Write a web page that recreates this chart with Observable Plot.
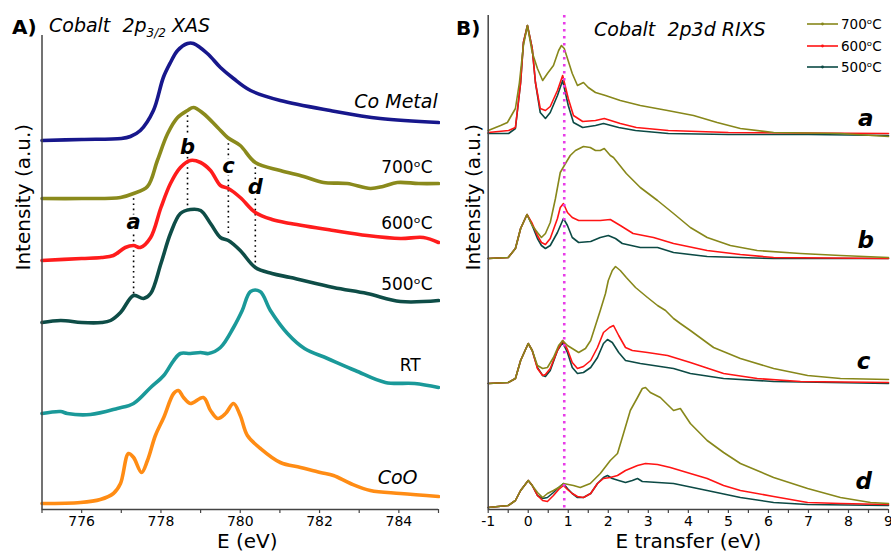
<!DOCTYPE html>
<html><head><meta charset="utf-8">
<script src="https://cdn.jsdelivr.net/npm/d3@7"></script>
<script src="https://cdn.jsdelivr.net/npm/@observablehq/plot@0.6"></script>
<style>
body{margin:0;background:#fff;font-family:"DejaVu Sans",sans-serif;}
#wrap{position:relative;width:891px;height:557px;overflow:hidden;background:#fff;}
#pa{position:absolute;left:0;top:0;}
#pb{position:absolute;left:440px;top:0;}
.ov{position:absolute;white-space:pre;color:#000;line-height:1;}
.sub{font-size:12px;position:relative;top:5px;}
.leg{position:absolute;display:flex;align-items:center;height:16px;font-size:13.5px;}
</style></head><body>
<div id="wrap">
<div id="pa"></div><div id="pb"></div>
<div class="ov" style="left:12px;top:17px;font-weight:bold;font-size:20px">A)</div>
<div class="ov" style="left:49px;top:16px;font-style:italic;font-size:19px">Cobalt  2p<span class="sub">3/2</span> XAS</div>
<div class="ov" style="left:456px;top:18px;font-weight:bold;font-size:20px">B)</div>
<div class="ov" style="left:594px;top:20px;font-style:italic;font-size:19px">Cobalt  2p3d RIXS</div>
<div id="legend"></div>
</div>
<script>
// ---------- Panel A: Co 2p3/2 XAS (E in eV, intensity in a.u. incl. vertical offsets)
const xasCoMetal = [[775,369],[776,370],[777,371],[777.23,373],[777.48,379],[777.81,399],[778.06,432],[778.24,447],[778.42,459],[778.67,466],[778.82,466],[779.17,456],[779.5,442],[779.83,431],[780.26,419],[781.01,409],[782.27,399],[783.53,391],[785,387]];
const xas700 = [[775,311],[776,311],[776.98,312],[777.31,316],[777.66,323],[777.91,349],[778.17,376],[778.42,392],[778.67,399],[778.82,402],[779.07,396],[779.43,382],[779.68,372],[780,364],[780.38,347],[781.01,339],[781.6,333],[782.1,327],[782.7,326],[783.28,321],[783.6,323],[783.96,327],[784.5,326],[785,326]];
const xas600 = [[775,249],[776,251],[776.5,252],[776.8,254],[777.1,262],[777.31,264],[777.48,262],[777.74,272],[778,302],[778.24,326],[778.49,342],[778.74,349],[779,347],[779.25,339],[779.5,324],[779.7,321],[780,312],[780.38,297],[780.8,290],[781.27,286],[782.35,279],[783.2,274],[784.04,271],[784.62,272],[785,267]];
const xas500 = [[775,187],[775.47,189],[776,187],[776.5,187],[776.73,189],[776.98,197],[777.31,214],[777.56,211],[777.74,216],[778,246],[778.24,276],[778.49,296],[778.74,300],[779,299],[779.25,286],[779.5,272],[779.7,269],[780,259],[780.38,242],[780.8,236],[781.27,232],[782.35,222],[783.2,216],[784.04,208],[785,209]];
const xasRT = [[775,96],[775.47,98],[775.64,96],[776.22,95],[776.9,101],[777.31,106],[777.74,122],[778.07,134],[778.32,149],[778.49,156],[778.74,156],[779,157],[779.2,156],[779.5,162],[779.83,182],[780.05,199],[780.26,218],[780.5,218],[780.76,199],[781.19,176],[781.62,161],[782.2,151],[782.9,139],[783.66,127],[784.4,126],[785,122]];
const xasCoO = [[775,6],[775.97,7],[776.47,10],[776.8,16],[776.98,26],[777.18,56],[777.31,52],[777.51,37],[777.66,49],[777.86,74],[778.07,92],[778.32,116],[778.44,119],[778.57,112],[778.74,106],[779.07,112],[779.25,99],[779.43,91],[779.63,96],[779.83,106],[780,94],[780.18,74],[780.51,61],[781.01,47],[781.52,42],[782.02,37],[782.35,34],[782.78,26],[783.28,19],[784.04,16],[785,13]];
const xasNames = ["Co Metal","700ᵒC","600ᵒC","500ᵒC","RT","CoO"];
const xasLabelE = [784.98, 784.85, 784.85, 784.85, 784.55, 784.47];
const xasLabelI = [402, 337, 281, 220, 139, 26];
const xasLabelItalic = [true, false, false, false, false, true];
// features a-d
const featureNames = ["a","b","c","d"];
const featureE = [777.31, 778.67, 779.7, 780.38];
const featureTop = [316, 399, 371, 347];
const featureBottom = [214, 300, 276, 242];
const featureLabelI = [281, 356, 337, 316];

// ---------- Panel B: Co 2p3d RIXS (E transfer in eV)
const rixsA700 = [[-1,379],[-0.69,384],[-0.52,387],[-0.32,401],[-0.22,427],[-0.12,464],[-0.02,484],[0.1,457],[0.23,441],[0.36,429],[0.48,436],[0.63,444],[0.76,459],[0.83,464],[0.9,461],[0.98,451],[1.1,436],[1.23,424],[1.38,427],[1.5,422],[1.68,417],[1.93,414],[2.3,409],[2.8,404],[3.48,399],[4.13,394],[4.72,387],[5.3,381],[6.13,377],[7.8,376],[9,373]];
const rixsA600 = [[-1,377],[-0.49,379],[-0.32,382],[-0.19,427],[-0.12,467],[-0.02,484],[0.1,461],[0.18,427],[0.3,401],[0.43,399],[0.55,403],[0.73,419],[0.86,434],[1.0,411],[1.13,394],[1.36,388],[1.68,389],[1.9,391],[2.3,386],[2.7,382],[3.5,379],[5,377],[9,376]];
const rixsA500 = [[-1,376],[-0.49,376],[-0.32,381],[-0.19,427],[-0.12,467],[-0.02,484],[0.1,461],[0.18,427],[0.3,397],[0.43,391],[0.55,397],[0.73,414],[0.86,429],[1.0,404],[1.13,387],[1.36,382],[1.68,384],[1.88,386],[2.26,382],[2.68,379],[3.5,376],[5,375],[7,375],[9,374]];
const rixsB700 = [[-1,251],[-0.5,252],[-0.32,261],[-0.19,281],[-0.03,295],[0.1,284],[0.23,277],[0.33,272],[0.43,276],[0.55,287],[0.68,311],[0.8,337],[0.93,346],[1.05,354],[1.18,359],[1.38,363],[1.55,362],[1.68,359],[1.8,359],[1.9,361],[2.05,354],[2.13,352],[2.45,336],[2.8,322],[3.23,309],[3.63,296],[4.05,282],[4.47,272],[5.05,264],[5.72,259],[6.8,256],[7.8,254],[9,252]];
const rixsB600 = [[-1,251],[-0.5,252],[-0.32,261],[-0.19,281],[-0.03,295],[0.1,286],[0.23,274],[0.33,267],[0.43,265],[0.55,271],[0.73,291],[0.8,302],[0.88,306],[0.98,297],[1.1,292],[1.26,289],[1.56,289],[1.8,289],[2.05,290],[2.3,284],[2.62,276],[3.13,272],[3.63,266],[4.47,259],[5.3,255],[6.13,252],[9,251]];
const rixsB500 = [[-1,251],[-0.5,252],[-0.32,261],[-0.19,281],[-0.03,295],[0.1,284],[0.23,271],[0.33,264],[0.43,261],[0.55,264],[0.73,277],[0.88,291],[0.98,284],[1.1,272],[1.26,267],[1.56,268],[1.8,272],[2.0,274],[2.18,271],[2.35,266],[2.8,262],[3.23,262],[3.63,257],[4.47,253],[6.13,251],[9,251]];
const rixsC700 = [[-1,126],[-0.5,127],[-0.32,131],[-0.19,149],[0,166],[0.1,159],[0.23,144],[0.36,141],[0.48,142],[0.63,152],[0.76,164],[0.86,169],[0.98,164],[1.1,161],[1.26,157],[1.43,161],[1.56,169],[1.68,184],[1.8,199],[1.93,216],[2.0,229],[2.1,239],[2.18,243],[2.3,239],[2.45,232],[2.68,222],[2.98,212],[3.23,204],[3.43,199],[3.63,191],[3.8,186],[4.05,179],[4.63,162],[5.3,151],[6.13,141],[6.98,134],[7.8,131],[9,130]];
const rixsC600 = [[-1,126],[-0.5,127],[-0.32,131],[-0.19,149],[0,166],[0.1,159],[0.23,141],[0.36,134],[0.43,135],[0.55,141],[0.73,159],[0.86,169],[0.98,160],[1.1,147],[1.23,141],[1.38,143],[1.56,149],[1.73,162],[1.88,177],[2.03,182],[2.13,184],[2.26,174],[2.43,162],[2.6,159],[2.98,157],[3.48,154],[4.05,147],[4.88,136],[5.72,131],[6.8,128],[9,127]];
const rixsC500 = [[-1,126],[-0.5,127],[-0.32,131],[-0.19,149],[0,166],[0.1,159],[0.23,142],[0.36,134],[0.43,133],[0.55,139],[0.73,159],[0.86,167],[0.98,157],[1.1,142],[1.23,136],[1.38,137],[1.56,142],[1.73,152],[1.88,166],[1.98,170],[2.1,167],[2.26,157],[2.43,149],[2.8,146],[3.63,141],[4.05,136],[4.88,131],[6.13,128],[9,126]];
const rixsD700 = [[-1,2],[-0.5,4],[-0.32,9],[-0.19,19],[0,29],[0.1,24],[0.23,17],[0.36,12],[0.48,16],[0.63,19],[0.76,22],[0.88,26],[1.13,24],[1.3,22],[1.55,26],[1.8,36],[2.05,49],[2.23,56],[2.38,76],[2.55,99],[2.73,112],[2.85,121],[2.93,122],[3.05,117],[3.3,112],[3.63,99],[3.8,101],[4.05,86],[4.47,69],[4.88,57],[5.3,46],[6.13,32],[6.98,21],[7.8,12],[8.55,7],[9,6]];
const rixsD600 = [[-1,2],[-0.5,4],[-0.32,9],[-0.19,19],[0,29],[0.1,24],[0.23,14],[0.36,9],[0.48,8],[0.63,14],[0.76,20],[0.88,24],[0.98,20],[1.1,16],[1.23,13],[1.38,12],[1.56,16],[1.73,26],[1.88,31],[2.05,32],[2.23,34],[2.43,39],[2.73,44],[2.93,46],[3.23,45],[3.55,42],[4.05,36],[4.47,31],[4.88,24],[5.3,19],[6.13,13],[6.98,7],[7.8,6],[9,5]];
const rixsD500 = [[-1,2],[-0.5,4],[-0.32,9],[-0.19,19],[0,29],[0.1,24],[0.23,14],[0.36,11],[0.48,12],[0.63,17],[0.76,22],[0.88,26],[0.98,21],[1.1,16],[1.23,12],[1.38,12],[1.56,16],[1.73,26],[1.88,32],[1.98,34],[2.1,31],[2.26,29],[2.43,27],[2.6,29],[2.73,31],[2.85,28],[3.63,26],[4.47,19],[5.3,12],[6.13,7],[6.98,5],[9,4]];
const rixsTemps = ["700ᵒC","600ᵒC","500ᵒC"];
const rixsPanelLetters = ["a","b","c","d"];
const rixsLetterE = [8.43, 8.43, 8.38, 8.38];
const rixsLetterI = [384, 262, 141, 21];
const rixsMarkerE = [0.9];

// ---------- styles
const xasColors = ["#17178c","#8a8a1c","#ff1c1c","#0e4d47","#1a9999","#ff8c14"];
const rixsColors = ["#87871a","#ff1414","#0c4a45"];
const axisColor = "#444";

const toRows = pts => pts.map(([E, I]) => ({E, I}));

// ---------- Panel A
const xasSeries = [xasCoMetal, xas700, xas600, xas500, xasRT, xasCoO];
const features = featureNames.map((n, i) => ({n, E: featureE[i], top: featureTop[i], bot: featureBottom[i], lab: featureLabelI[i]}));
const xasLabels = xasNames.map((t, i) => ({t, E: xasLabelE[i], I: xasLabelI[i], it: xasLabelItalic[i]}));

const plotA = Plot.plot({
  width: 440, height: 557,
  marginLeft: 41.5, marginRight: 2, marginTop: 35, marginBottom: 48,
  x: {domain: [775, 785]},
  y: {domain: [0, 474], axis: null},
  style: {fontFamily: "DejaVu Sans", background: "transparent", color: "#000"},
  marks: [
    Plot.axisX({ticks: d3.range(775, 785.001, 1), tickFormat: d => d % 2 === 0 ? String(d) : "", tickSize: 4, tickPadding: 3, fontSize: 14, label: null, stroke: axisColor, strokeWidth: 1.2}),
    Plot.ruleX(features, {x: "E", y1: "top", y2: "bot", stroke: "#000", strokeWidth: 1.6, strokeDasharray: "1.6 3.6"}),
    ...xasSeries.map((s, i) => Plot.line(toRows(s), {x: "E", y: "I", stroke: xasColors[i], strokeWidth: 3.6, curve: "catmull-rom", strokeLinejoin: "round", strokeLinecap: "round"})),
    Plot.text(features, {x: "E", y: "lab", text: "n", fontSize: 21, fontWeight: "bold", fontStyle: "italic", lineAnchor: "bottom", stroke: "white", strokeWidth: 5, fill: "#000"}),
    Plot.text(xasLabels.filter(d => d.it), {x: "E", y: "I", text: "t", textAnchor: "end", lineAnchor: "bottom", fontSize: 19, fontStyle: "italic", fill: "#000"}),
    Plot.text(xasLabels.filter(d => !d.it), {x: "E", y: "I", text: "t", textAnchor: "end", lineAnchor: "bottom", fontSize: 17, fill: "#000"}),
    Plot.ruleX([775], {stroke: axisColor, strokeWidth: 1.5}),
    Plot.ruleY([0], {stroke: axisColor, strokeWidth: 1.5}),
    Plot.text(["Intensity (a.u.)"], {frameAnchor: "left", rotate: -90, dx: -18, dy: -2, fontSize: 20, fill: "#000"}),
    Plot.text(["E (eV)"], {frameAnchor: "bottom", dy: 38, dx: 7, fontSize: 20, fill: "#000"})
  ]
});
document.getElementById("pa").append(plotA);

// ---------- Panel B
const rixsGroups = [[rixsA700, rixsA600, rixsA500],[rixsB700, rixsB600, rixsB500],[rixsC700, rixsC600, rixsC500],[rixsD700, rixsD600, rixsD500]];
const rixsLetters = rixsPanelLetters.map((t, i) => ({t, E: rixsLetterE[i], I: rixsLetterI[i]}));
const rixsLineMarks = [];
for (const g of rixsGroups) {
  for (const ti of [2, 1, 0]) {
    rixsLineMarks.push(Plot.line(toRows(g[ti]), {x: "E", y: "I", stroke: rixsColors[ti], strokeWidth: 1.6, strokeLinejoin: "round"}));
  }
}
const plotB = Plot.plot({
  width: 451, height: 557,
  marginLeft: 47.7, marginRight: 3, marginTop: 15, marginBottom: 48,
  x: {domain: [-1, 9]},
  y: {domain: [0, 494], axis: null},
  style: {fontFamily: "DejaVu Sans", background: "transparent", color: "#000"},
  marks: [
    Plot.axisX({ticks: d3.range(-1, 9.001, 0.5), tickFormat: d => Number.isInteger(d) ? String(d) : "", tickSize: 4, tickPadding: 3, fontSize: 14, label: null, stroke: axisColor, strokeWidth: 1.2}),
    ...rixsLineMarks,
    Plot.ruleX(rixsMarkerE, {stroke: "#e83ce8", strokeWidth: 2.6, strokeDasharray: "2.6 4.4"}),
    Plot.text(rixsLetters, {x: "E", y: "I", text: "t", fontSize: 23, fontWeight: "bold", fontStyle: "italic", lineAnchor: "bottom", fill: "#000"}),
    Plot.ruleX([-1], {stroke: axisColor, strokeWidth: 1.5}),
    Plot.ruleY([0], {stroke: axisColor, strokeWidth: 1.5}),
    Plot.text(["Intensity (a.u.)"], {frameAnchor: "left", rotate: -90, dx: -15, dy: 8, fontSize: 20, fill: "#000"}),
    Plot.text(["E transfer (eV)"], {frameAnchor: "bottom", dy: 38, fontSize: 20, fill: "#000"})
  ]
});
document.getElementById("pb").append(plotB);

// ---------- Legend (panel B)
const legend = document.getElementById("legend");
const legendCenters = [24, 46, 67];
rixsTemps.forEach((t, i) => {
  const row = document.createElement("div");
  row.className = "leg";
  row.style.left = "806px";
  row.style.top = (legendCenters[i] - 8) + "px";
  row.innerHTML = `<svg width="33" height="16"><line x1="1" y1="8" x2="32" y2="8" stroke="${rixsColors[i]}" stroke-width="1.6"/><circle cx="16.5" cy="8" r="1.4" fill="${rixsColors[i]}"/></svg><span style="margin-left:2px">${t}</span>`;
  legend.append(row);
});
</script>
</body></html>
